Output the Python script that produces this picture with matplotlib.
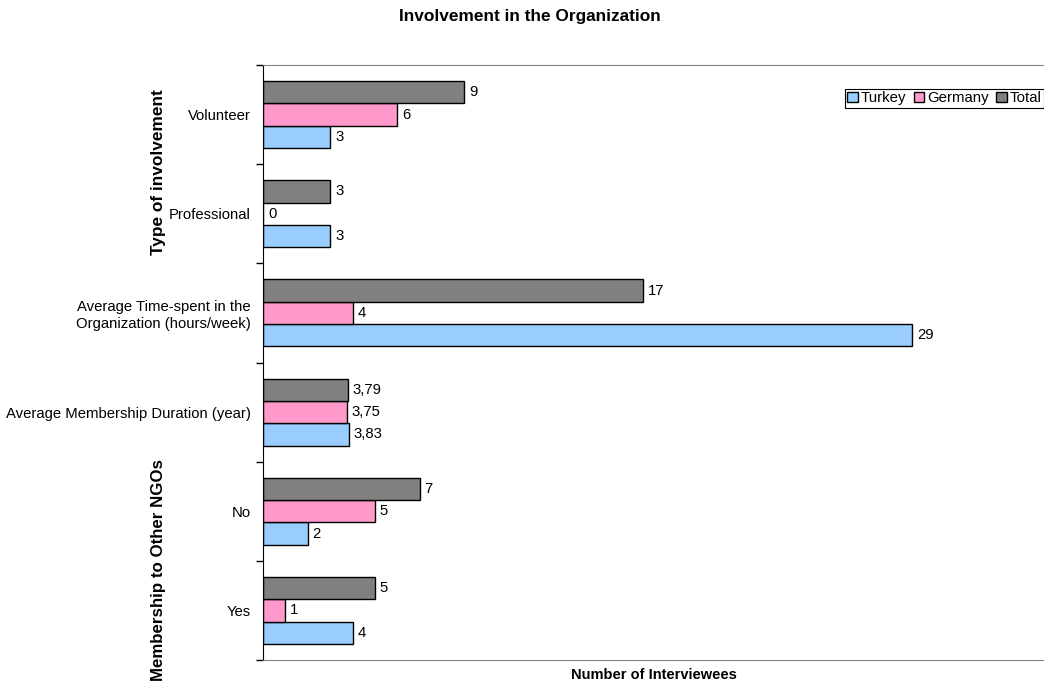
import numpy as np
import matplotlib.pyplot as plt
from matplotlib.patches import Patch

plt.rcParams['font.family'] = ['Liberation Sans', 'DejaVu Sans']

categories = ["Volunteer", "Professional",
              "Average Time-spent in the\nOrganization (hours/week)",
              "Average Membership Duration (year)", "No", "Yes"]
turkey = [3, 3, 29, 3.83, 2, 4]
germany = [6, 0, 4, 3.75, 5, 1]
total = [9, 3, 17, 3.79, 7, 5]

series = [("Turkey", turkey, "#99CCFF"),
          ("Germany", germany, "#FF99CC"),
          ("Total", total, "#808080")]

def fmt(v):
    if float(v).is_integer():
        return str(int(v))
    return f"{v:.2f}".replace(".", ",")

fig = plt.figure(figsize=(10.44, 6.85), dpi=100)
ax = fig.add_axes([263 / 1044, 1 - 660 / 685, 1 - 263 / 1044, 595 / 685])

y = np.arange(len(categories))
h = 0.225
offsets = [h, 0, -h]
for (name, vals, col), off in zip(series, offsets):
    bars = ax.barh(y + off, vals, height=h, color=col, edgecolor="black",
                   linewidth=1.0, label=name)
    for b, v in zip(bars, vals):
        ax.text(b.get_width() + 0.22, b.get_y() + b.get_height() / 2, fmt(v),
                va="center", ha="left", fontsize=10.7)

ax.set_xlim(0, 34.9)
ax.set_ylim(len(categories) - 0.5, -0.5)
ax.set_xticks([])

# boundaries between groups carry the tick marks, labels sit at the centres
ax.set_yticks(np.arange(-0.5, len(categories)), labels=[])
ax.set_yticks(y, labels=categories, minor=True)
ax.tick_params(axis="y", which="major", direction="out", length=5, width=1)
ax.tick_params(axis="y", which="minor", length=0, pad=9, labelsize=10.7)
for lab in ax.get_yticklabels(minor=True):
    lab.set_horizontalalignment("right")
    lab.set_multialignment("right")

ax.spines["left"].set_color("black")
ax.spines["top"].set_color("#808080")
ax.spines["bottom"].set_color("#808080")
ax.spines["right"].set_visible(False)

ax.set_xlabel("Number of Interviewees", fontsize=10.5, fontweight="bold", labelpad=6)
fig.text(530 / 1044, 1 - 17 / 685, "Involvement in the Organization",
         ha="center", va="center", fontsize=12.4, fontweight="bold")

fig.text(158 / 1044, 1 - 172 / 685, "Type of involvement", rotation=90,
         ha="center", va="center", fontsize=12.4, fontweight="bold")
fig.text(158 / 1044, 1 - 570 / 685, "Membership to Other NGOs", rotation=90,
         ha="center", va="center", fontsize=12.2, fontweight="bold")

handles = [Patch(facecolor=c, edgecolor="black", label=n) for n, _, c in series]
leg = fig.legend(handles=handles, ncol=3, loc="upper left",
                 bbox_to_anchor=(845 / 1044, 1 - 89 / 685), fontsize=10.8,
                 handlelength=0.7, handleheight=0.7, handletextpad=0.2,
                 columnspacing=0.5, borderpad=0.15, borderaxespad=0,
                 fancybox=False, framealpha=1)
leg.get_frame().set_edgecolor("black")
leg.get_frame().set_linewidth(0.8)

fig.savefig("out.png", dpi=100)
